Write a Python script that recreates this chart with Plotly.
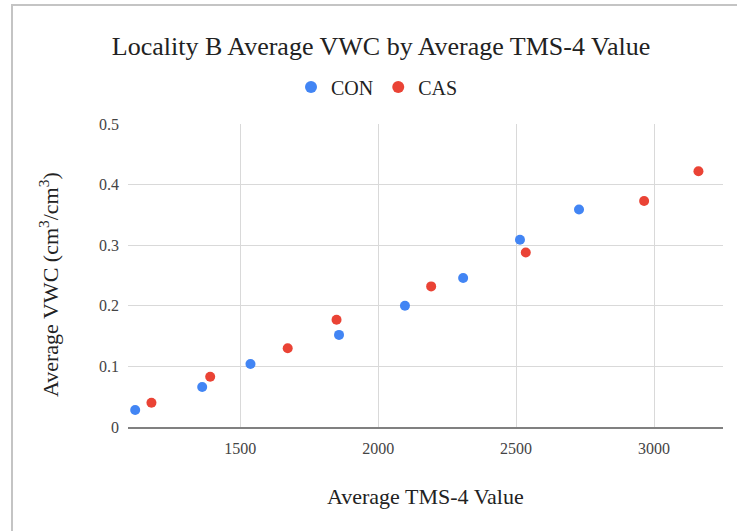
import plotly.graph_objects as go

# Average TMS-4 reading vs. average volumetric water content, per plot
con_tms = [1119, 1362, 1537, 1858, 2097, 2308, 2514, 2728]
con_vwc = [0.028, 0.066, 0.104, 0.152, 0.200, 0.246, 0.309, 0.359]

cas_tms = [1178, 1391, 1672, 1849, 2192, 2535, 2964, 3161]
cas_vwc = [0.040, 0.083, 0.130, 0.177, 0.232, 0.288, 0.373, 0.422]

x_ticks = [1500, 2000, 2500, 3000]
y_ticks = [0, 0.1, 0.2, 0.3, 0.4, 0.5]
y_tick_text = ["0", "0.1", "0.2", "0.3", "0.4", "0.5"]

FONT = "Liberation Serif"
W, H = 737, 531
ML, MR, MT, MB = 128, 14, 124, 104

fig = go.Figure()
fig.add_trace(go.Scatter(
    x=con_tms, y=con_vwc, mode="markers", name="CON",
    marker=dict(color="#4285F4", size=10, line=dict(width=0)),
))
fig.add_trace(go.Scatter(
    x=cas_tms, y=cas_vwc, mode="markers", name="CAS",
    marker=dict(color="#EA4335", size=10, line=dict(width=0)),
))

pw = W - ML - MR
ph = H - MT - MB


def px_x(p):
    return (p - ML) / pw


def px_y(p):
    return (H - MB - p) / ph


fig.update_layout(
    width=W, height=H,
    margin=dict(l=ML, r=MR, t=MT, b=MB),
    paper_bgcolor="white", plot_bgcolor="white",
    font=dict(family=FONT, color="#222222"),
    title=dict(
        text="Locality B Average VWC by Average TMS-4 Value",
        font=dict(family=FONT, size=26, color="#222222"),
        x=px_x(381), xref="paper", xanchor="center",
        y=1 - 46 / H, yref="container", yanchor="middle",
    ),
    showlegend=True,
    legend=dict(
        orientation="h", x=px_x(377), xanchor="center",
        y=px_y(87), yanchor="middle",
        font=dict(family=FONT, size=20, color="#222222"),
        itemsizing="constant", tracegroupgap=0, itemwidth=30,
        bgcolor="rgba(0,0,0,0)",
    ),
    xaxis=dict(
        range=[1093, 3250], tickvals=x_ticks,
        showgrid=True, gridcolor="#d9d9d9", gridwidth=1,
        showline=True, linecolor="#808080", linewidth=2,
        zeroline=False, ticks="", ticklabelstandoff=6,
        tickfont=dict(family=FONT, size=16, color="#444444"),
    ),
    yaxis=dict(
        range=[0, 0.5], tickvals=y_ticks, ticktext=y_tick_text,
        showgrid=True, gridcolor="#d9d9d9", gridwidth=1,
        zeroline=False, showline=False, ticks="", ticklabelstandoff=8,
        tickfont=dict(family=FONT, size=16, color="#444444"),
    ),
    annotations=[
        dict(text="Average TMS-4 Value", xref="paper", yref="paper",
             x=px_x(425), y=px_y(496), xanchor="center", yanchor="middle",
             showarrow=False, font=dict(family=FONT, size=22, color="#222222")),
        dict(text="Average VWC (cm<sup>3</sup>/cm<sup>3</sup>)", xref="paper", yref="paper",
             x=px_x(49), y=px_y(285), xanchor="center", yanchor="middle",
             textangle=-90, showarrow=False,
             font=dict(family=FONT, size=22, color="#222222")),
    ],
    shapes=[
        dict(type="rect", xref="paper", yref="paper",
             x0=px_x(12), x1=px_x(760), y0=px_y(560), y1=px_y(5),
             line=dict(color="#c4c4c4", width=2), fillcolor="rgba(0,0,0,0)",
             layer="below"),
    ],
)

fig.write_html("out.html")
